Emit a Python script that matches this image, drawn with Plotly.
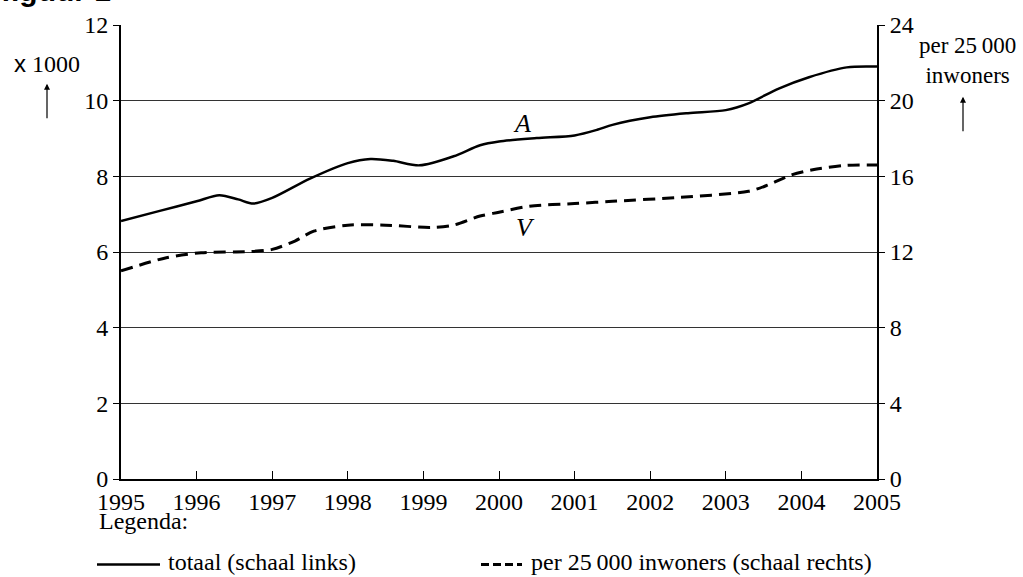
import plotly.graph_objects as go

# Data
years_totaal = [1995, 1995.5, 1996, 1996.3, 1996.55, 1996.75, 1997.0, 1997.5, 1998.0, 1998.3,
                1998.6, 1998.95, 1999.4, 1999.75, 2000.0, 2000.5, 2001.0, 2001.3, 2001.5,
                2002.0, 2002.5, 2003.0, 2003.3, 2003.7, 2004.1, 2004.6, 2005]
totaal = [6.82, 7.08, 7.34, 7.5, 7.39, 7.28, 7.43, 7.94, 8.35, 8.46,
          8.41, 8.29, 8.53, 8.82, 8.92, 9.01, 9.08, 9.23, 9.36,
          9.56, 9.67, 9.75, 9.93, 10.32, 10.62, 10.88, 10.9]

years_per = [1995, 1995.6, 1996.06, 1996.7, 1997.0, 1997.3, 1997.55, 1998.0, 1998.5, 1999.1,
             1999.4, 1999.75, 2000.0, 2000.4, 2001.0, 2001.5, 2002.4, 2003.3, 2003.55,
             2003.85, 2004.15, 2004.6, 2005]
per_25000 = [11.0, 11.7, 11.96, 12.02, 12.14, 12.58, 13.1, 13.42, 13.42, 13.3,
             13.42, 13.9, 14.1, 14.42, 14.56, 14.68, 14.89, 15.21, 15.53,
             16.05, 16.35, 16.58, 16.6]

year_ticks = list(range(1995, 2006))
left_ticks = [0, 2, 4, 6, 8, 10, 12]
right_ticks = [0, 4, 8, 12, 16, 20, 24]

SERIF = "Liberation Serif, Times New Roman, serif"
FS = 24

fig = go.Figure()
fig.add_trace(go.Scatter(x=years_totaal, y=totaal, mode="lines",
                         line=dict(color="black", width=2.5, shape="spline", smoothing=0.8),
                         showlegend=False, yaxis="y"))
fig.add_trace(go.Scatter(x=years_per, y=per_25000, mode="lines",
                         line=dict(color="black", width=3, shape="spline", smoothing=0.8,
                                   dash="12px,7px"),
                         showlegend=False, yaxis="y2"))

fig.update_layout(
    width=1023, height=577,
    margin=dict(l=121, r=146, t=23, b=98),
    paper_bgcolor="white", plot_bgcolor="white",
    font=dict(family=SERIF, size=FS, color="black"),
    xaxis=dict(range=[1995, 2005], tickvals=year_ticks, ticktext=[str(y) for y in year_ticks],
               showgrid=False, zeroline=False, showline=True, linecolor="black", linewidth=2,
               ticks="inside", ticklen=8, tickwidth=1.2, tickcolor="black",
               tickfont=dict(family=SERIF, size=FS)),
    yaxis=dict(range=[0, 12], tickvals=left_ticks, showgrid=True, gridcolor="#333",
               gridwidth=1, zeroline=False, showline=True, linecolor="black", linewidth=2,
               ticks="outside", ticklen=6, tickwidth=1.2, tickcolor="black",
               tickfont=dict(family=SERIF, size=FS)),
    yaxis2=dict(range=[0, 24], tickvals=right_ticks, overlaying="y", side="right",
                showgrid=False, zeroline=False, showline=True, linecolor="black", linewidth=2,
                ticks="outside", ticklen=6, tickwidth=1.2, tickcolor="black",
                tickfont=dict(family=SERIF, size=FS)),
)

ann = []
# top-left partially cut title
ann.append(dict(text="<b>figuur 1</b>", xref="paper", yref="paper", x=-121/756, y=1,
                xanchor="left", yanchor="bottom", yshift=16, xshift=-1, showarrow=False,
                font=dict(family="Liberation Sans, Arial, sans-serif", size=30)))
# left unit label
ann.append(dict(text="<span style='font-family:Liberation Sans, Arial, sans-serif'>x</span> 1000",
                xref="paper", yref="paper", x=-74/756, y=(479 - 62) / 456,
                xanchor="center", yanchor="middle", showarrow=False,
                font=dict(family=SERIF, size=FS)))
# right unit label
ann.append(dict(text="per 25\u2009000<br>inwoners", xref="paper", yref="paper",
                x=(967 - 121) / 756, y=(479 - 59) / 456, xanchor="center", yanchor="middle",
                showarrow=False, font=dict(family=SERIF, size=FS - 1)))
# curve labels
ann.append(dict(text="<i>A</i>", x=2000.3, y=9.4, xref="x", yref="y", showarrow=False,
                font=dict(family=SERIF, size=FS + 2)))
ann.append(dict(text="<i>V</i>", x=2000.35, y=13.3, xref="x", yref="y2", showarrow=False,
                font=dict(family=SERIF, size=FS + 2)))
# legend texts
ann.append(dict(text="Legenda:", xref="paper", yref="paper", x=-24/756, y=(479 - 521) / 456,
                xanchor="left", yanchor="middle", showarrow=False, font=dict(family=SERIF, size=FS)))
ann.append(dict(text="totaal (schaal links)", xref="paper", yref="paper", x=(166 - 121) / 756,
                y=(479 - 562) / 456, xanchor="left", yanchor="middle", showarrow=False,
                font=dict(family=SERIF, size=FS)))
ann.append(dict(text="per 25\u2009000 inwoners (schaal rechts)", xref="paper", yref="paper",
                x=(529 - 121) / 756, y=(479 - 562) / 456, xanchor="left", yanchor="middle",
                showarrow=False, font=dict(family=SERIF, size=FS)))
# arrows
ann.append(dict(x=-74/756, y=(479 - 82) / 456, ax=0, ay=36,
                xref="paper", yref="paper", text="",
                showarrow=True, arrowhead=2, arrowsize=1, arrowwidth=1.2, arrowcolor="black"))
ann.append(dict(x=(963 - 121) / 756, y=(479 - 95) / 456, ax=0, ay=36,
                xref="paper", yref="paper", text="",
                showarrow=True, arrowhead=2, arrowsize=1, arrowwidth=1.2, arrowcolor="black"))
fig.update_layout(annotations=ann)

shapes = [
    dict(type="line", xref="paper", yref="paper", x0=-24/756, x1=(160 - 121) / 756,
         y0=(479 - 565) / 456, y1=(479 - 565) / 456, line=dict(color="black", width=2.5)),
    dict(type="line", xref="paper", yref="paper", x0=(481 - 121) / 756, x1=(522 - 121) / 756,
         y0=(479 - 565) / 456, y1=(479 - 565) / 456, line=dict(color="black", width=3, dash="8px,4px")),
]
fig.update_layout(shapes=shapes)

fig.write_html("out.html", config={"displayModeBar": False},
               post_script="document.body.style.margin='0';document.body.style.overflow='hidden';")
